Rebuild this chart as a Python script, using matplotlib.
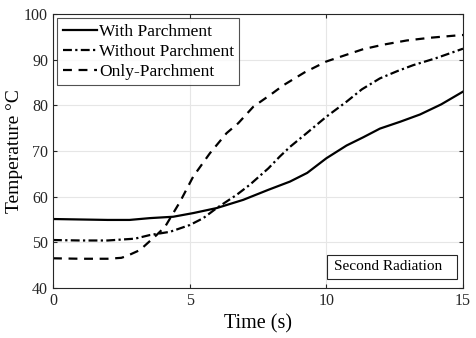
import numpy as np
import matplotlib.pyplot as plt
from matplotlib.patches import Rectangle

plt.rcParams['font.family'] = ['Liberation Serif', 'DejaVu Serif']

# data
t_with = [0, 1, 2, 2.8, 3.55, 4.4, 5.13, 5.99, 6.96, 7.88, 8.67, 9.3, 10.0, 10.74, 11.35, 11.96, 12.7, 13.43, 14.2, 15.0]
y_with = [55.1, 55.0, 54.9, 54.9, 55.3, 55.6, 56.4, 57.5, 59.3, 61.5, 63.3, 65.2, 68.4, 71.2, 73.0, 74.9, 76.4, 78.0, 80.2, 83.0]

t_without = [0, 1, 2, 3.0, 3.55, 4.28, 5.01, 5.5, 5.99, 6.72, 7.2, 7.88, 8.3, 8.67, 9.3, 10.0, 10.74, 11.3, 11.96, 12.6, 13.18, 14.0, 15.0]
y_without = [50.5, 50.4, 50.4, 50.8, 51.6, 52.3, 53.8, 55.3, 57.5, 60.4, 62.6, 66.2, 68.8, 70.9, 74.0, 77.5, 80.8, 83.5, 85.9, 87.5, 88.8, 90.3, 92.4]

t_only = [0, 1, 2, 2.5, 2.7, 3.18, 3.79, 4.1, 4.65, 5.13, 5.74, 6.35, 6.78, 7.33, 8.0, 8.43, 9.2, 10.0, 10.7, 11.35, 12.1, 12.94, 13.8, 14.77, 15.0]
y_only = [46.5, 46.4, 46.4, 46.6, 47.0, 48.3, 51.6, 53.4, 58.9, 64.4, 69.5, 73.9, 76.1, 79.7, 82.5, 84.4, 87.2, 89.6, 91.0, 92.3, 93.3, 94.2, 94.8, 95.3, 95.4]

fig = plt.figure(figsize=(4.76, 3.38), dpi=100)
ax = fig.add_axes([0.1113, 0.148, 0.8614, 0.8106])

ax.plot(t_with, y_with, color='black', lw=1.6, ls='-', label='With Parchment')
ax.plot(t_without, y_without, color='black', lw=1.6, ls=(0, (4, 1.5, 1, 1.5)), label='Without Parchment')
ax.plot(t_only, y_only, color='black', lw=1.6, ls=(0, (4, 3)), label='Only-Parchment')

ax.set_xlim(0, 15)
ax.set_ylim(40, 100)
ax.set_xticks([0, 5, 10, 15])
ax.set_yticks([40, 50, 60, 70, 80, 90, 100])
ax.grid(True, color='#e6e6e6', lw=0.8)
ax.set_axisbelow(True)
ax.tick_params(direction='in', length=3, labelsize=11.5, colors='#262626', labelcolor='#262626',
               top=True, right=True, labeltop=False, labelright=False)
for s in ax.spines.values():
    s.set_color('#262626')
    s.set_linewidth(0.8)

ax.set_xlabel('Time (s)', fontsize=14.5, labelpad=4)
ax.set_ylabel('Temperature °C', fontsize=14)
ax.yaxis.set_label_coords(-0.072, 0.5)

leg = ax.legend(loc='upper left', fontsize=12.5, frameon=True, fancybox=False, edgecolor='#262626',
                borderaxespad=0.25, handlelength=2.0, handletextpad=0.1, labelspacing=0.22, borderpad=0.3)
leg.get_frame().set_linewidth(0.8)

# annotation box
ax.add_patch(Rectangle((0.668, 0.033), 0.317, 0.087, transform=ax.transAxes,
                       fc='white', ec='#262626', lw=0.8, zorder=5))
ax.text(0.685, 0.077, 'Second Radiation', transform=ax.transAxes, fontsize=11,
        ha='left', va='center', zorder=6)

fig.savefig('out.png', dpi=100)
